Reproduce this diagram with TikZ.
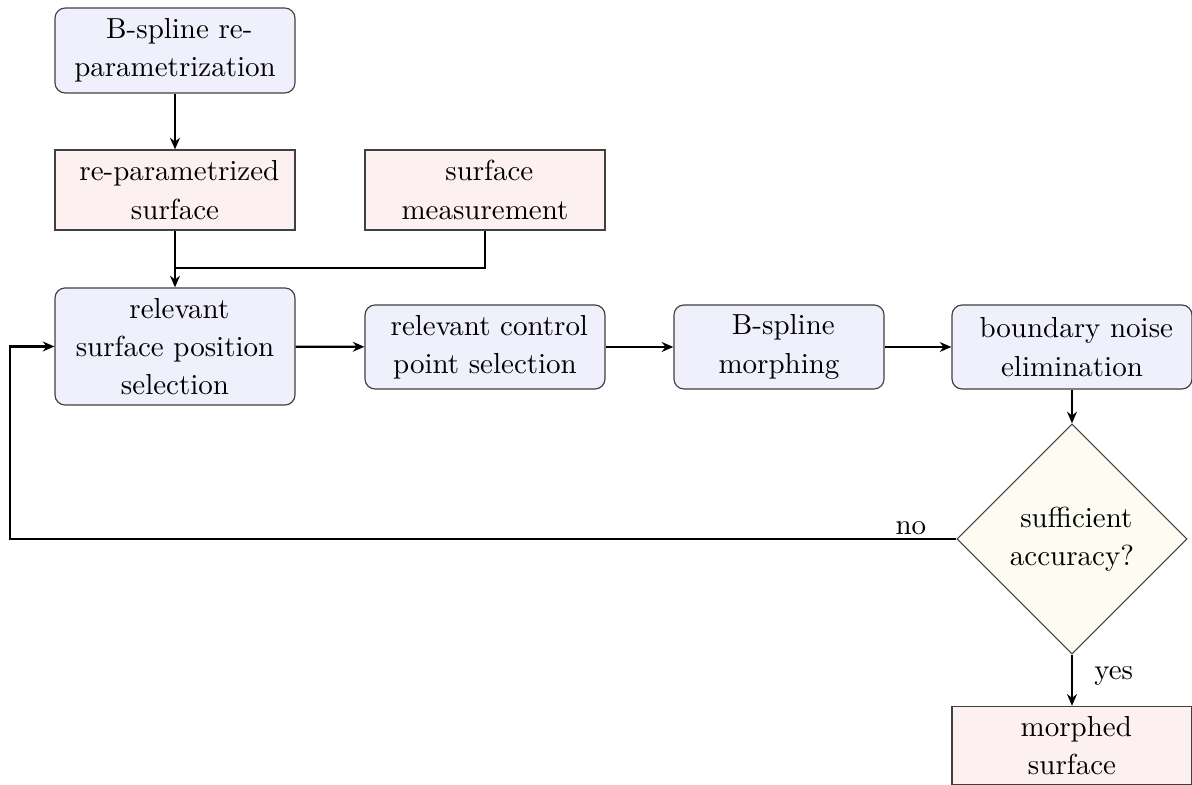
\documentclass[tikz,border=0pt]{standalone}
\usetikzlibrary{arrows.meta,shapes.geometric}
\definecolor{procfill}{RGB}{239,240,252}
\definecolor{datafill}{RGB}{253,240,240}
\definecolor{decfill}{RGB}{252,252,242}
\tikzset{
  every node/.style={font=\fontsize{10}{13.2}\selectfont},
  procbox/.style={draw=black!75, line width=0.4pt, rounded corners=3.5pt, fill=procfill,
    minimum width=82.8pt, align=center, inner xsep=2pt, inner ysep=0pt},
  databox/.style={draw=black!75, line width=0.4pt, fill=datafill,
    minimum width=82.8pt, align=center, inner xsep=2pt, inner ysep=0pt},
  decbox/.style={draw=black!75, line width=0.4pt, fill=decfill, diamond, aspect=1,
    minimum width=79.4pt, minimum height=79.4pt, align=center, inner sep=0pt},
  arr/.style={line width=0.75pt, -{Stealth[length=4pt,width=3.4pt]}},
  ln/.style={line width=0.75pt},
}
\newcommand{\ind}{\hspace*{3pt}}
\begin{document}
\begin{tikzpicture}[x=0.345pt,y=-0.345pt]
\useasboundingbox (0,0) rectangle (1192,785);
\node[procbox, minimum height=29.3pt] (bsr) at (175,50.5) {\ind B-spline re-\\parametrization};
\node[databox, minimum height=27.6pt] (rps) at (175,190) {\ind re-parametrized\\surface};
\node[databox, minimum height=27.6pt] (sm) at (485,190) {\ind surface\\measurement};
\node[procbox, minimum height=40.4pt] (rsp) at (175,346.5) {\ind relevant\\surface position\\selection};
\node[procbox, minimum height=29pt] (rcp) at (485,347) {\ind relevant control\\point selection};
\node[procbox, minimum height=29pt, minimum width=72.5pt] (bm) at (779,347) {\ind B-spline\\morphing};
\node[procbox, minimum height=29pt] (bne) at (1072,347) {\ind boundary noise\\elimination};
\node[decbox] (dec) at (1072,539) {\ind sufficient\\accuracy?};
\node[databox, minimum height=27pt] (ms) at (1072,745.5) {\ind morphed\\surface};
\coordinate (j) at (175,268);
\coordinate (lb) at (10,539);
\draw[arr] (bsr) -- (rps);
\draw[arr] (rps) -- (rsp);
\draw[ln] (sm.south) |- (j);
\draw[arr] (rsp) -- (rcp);
\draw[arr] (rcp) -- (bm);
\draw[arr] (bm) -- (bne);
\draw[arr] (bne) -- (dec);
\draw[arr] (dec.west) -- node[pos=0.048, above, inner sep=1pt] {no} (lb) |- (rsp.west);
\draw[arr] (dec.south) -- node[pos=0.42, right, xshift=4pt] {yes} (ms.north);
\end{tikzpicture}
\end{document}
